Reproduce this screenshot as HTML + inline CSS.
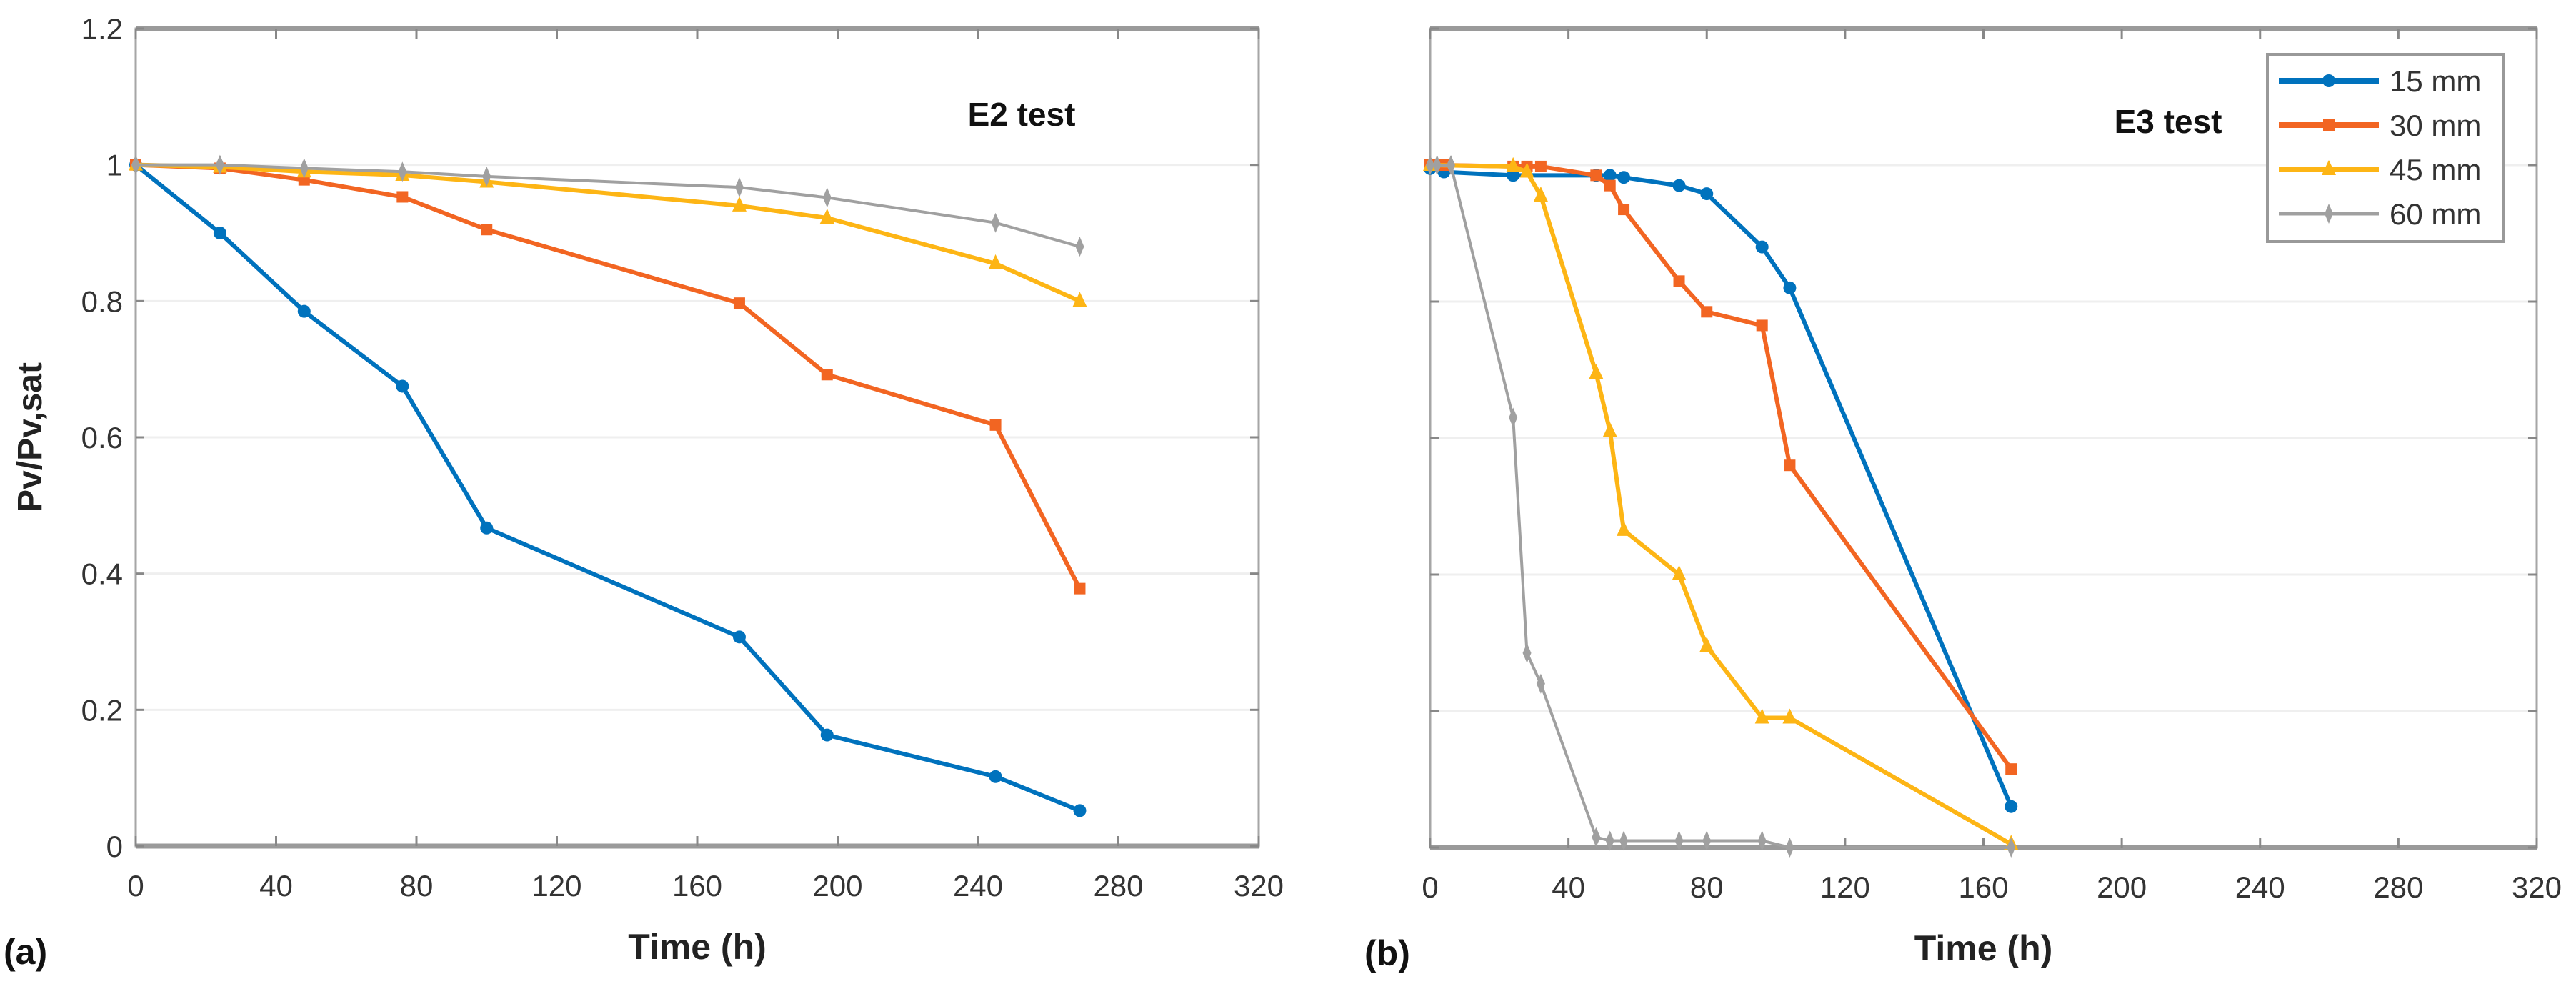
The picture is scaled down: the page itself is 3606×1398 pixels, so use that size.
<!DOCTYPE html>
<html><head><meta charset="utf-8"><style>
html,body{margin:0;padding:0;background:#fff;}
svg text{font-family:"Liberation Sans",sans-serif;}
</style></head><body>
<svg id="c" width="3606" height="1393" xmlns="http://www.w3.org/2000/svg"></svg>
<script>
const xTicks=[0,40,80,120,160,200,240,280,320];
const yTicks=[0,0.2,0.4,0.6,0.8,1,1.2];
const yTickLabels=["0","0.2","0.4","0.6","0.8","1","1.2"];
const seriesNames=["15 mm","30 mm","45 mm","60 mm"];
const aT15=[0,24,48,76,100,172,197,245,269];
const aV15=[1,0.9,0.785,0.675,0.467,0.307,0.163,0.102,0.052];
const aT30=[0,24,48,76,100,172,197,245,269];
const aV30=[1,0.995,0.978,0.953,0.905,0.797,0.692,0.618,0.378];
const aT45=[0,24,48,76,100,172,197,245,269];
const aV45=[1,0.997,0.99,0.985,0.975,0.94,0.922,0.855,0.8];
const aT60=[0,24,48,76,100,172,197,245,269];
const aV60=[1,1,0.995,0.99,0.983,0.967,0.952,0.915,0.88];
const bT15=[0,4,24,48,52,56,72,80,96,104,168];
const bV15=[0.995,0.99,0.985,0.985,0.985,0.982,0.97,0.958,0.88,0.82,0.06];
const bT30=[0,4,24,28,32,48,52,56,72,80,96,104,168];
const bV30=[1,1,0.998,0.998,0.998,0.985,0.97,0.935,0.83,0.785,0.765,0.56,0.115];
const bT45=[0,24,28,32,48,52,56,72,80,96,104,168];
const bV45=[1,0.998,0.99,0.955,0.695,0.61,0.465,0.4,0.295,0.19,0.19,0.005];
const bT60=[0,2,6,24,28,32,48,52,56,72,80,96,104,168];
const bV60=[1,1,1,0.63,0.285,0.24,0.015,0.01,0.01,0.01,0.01,0.01,0,0];
const colors=["#0072BD","#F26522","#FDB515","#A0A0A0"];
const markers=["circle","square","triangle","diamond"];
const NS="http://www.w3.org/2000/svg";
const svg=document.getElementById('c');
function mk(tag,attrs,parent,text){const e=document.createElementNS(NS,tag);for(const k in attrs)e.setAttribute(k,attrs[k]);if(text!==undefined)e.textContent=text;(parent||svg).appendChild(e);return e;}
function marker(g,type,x,y,col){
  let e;
  if(type==="circle"){e=mk('circle',{cx:x,cy:y,r:9,fill:col},g);}
  else if(type==="square"){e=mk('rect',{x:x-8,y:y-8,width:16,height:16,fill:col},g);}
  else if(type==="triangle"){e=mk('polygon',{points:`${x},${y-13} ${x-10},${y+8} ${x+10},${y+8}`,fill:col},g);}
  else {e=mk('polygon',{points:`${x},${y-14} ${x-6},${y} ${x},${y+14} ${x+6},${y}`,fill:col},g);}
  
  
}
function panel(p){
  const g=mk('g',{});
  
  
  const X=v=>p.x0+(v-0)/320*(p.x1-p.x0);
  const Y=v=>p.y1-(v/1.2)*(p.y1-p.y0);
  mk('rect',{x:p.x0,y:p.y0,width:p.x1-p.x0,height:p.y1-p.y0,fill:'#fff'},g);
  yTicks.forEach((t,i)=>{
    if(t>0&&t<1.2){const l=mk('line',{x1:p.x0,x2:p.x1,y1:Y(t),y2:Y(t),stroke:'#efefef','stroke-width':3},g);
    }
  });
  const ax=mk('rect',{x:p.x0,y:p.y0,width:p.x1-p.x0,height:p.y1-p.y0,fill:'none',stroke:'#a6a6a6','stroke-width':3},g);
  
  mk('line',{x1:p.x0,x2:p.x1,y1:p.y1,y2:p.y1,stroke:'#9a9a9a','stroke-width':7},g);
  mk('line',{x1:p.x0,x2:p.x1,y1:p.y0,y2:p.y0,stroke:'#9a9a9a','stroke-width':6},g);
  xTicks.forEach(t=>{
    mk('line',{x1:X(t),x2:X(t),y1:p.y1,y2:p.y1-14,stroke:'#888','stroke-width':3},g);
    mk('line',{x1:X(t),x2:X(t),y1:p.y0,y2:p.y0+14,stroke:'#888','stroke-width':3},g);
    const tl=mk('text',{x:X(t),y:p.y1+70,'font-size':42,fill:'#333','text-anchor':'middle'},g,String(t));
    
  });
  yTicks.forEach((t,i)=>{
    mk('line',{x1:p.x0,x2:p.x0+12,y1:Y(t),y2:Y(t),stroke:'#888','stroke-width':3},g);
    mk('line',{x1:p.x1,x2:p.x1-12,y1:Y(t),y2:Y(t),stroke:'#888','stroke-width':3},g);
    if(p.yLabels){const tl=mk('text',{x:p.x0-18,y:Y(t)+15,'font-size':42,fill:'#333','text-anchor':'end'},g,yTickLabels[i]);
    }
  });
  p.series.forEach((s,si)=>{
    const sg=mk('g',{},g);
    
    
    const pts=s.t.map((t,i)=>X(t)+','+Y(s.v[i])).join(' ');
    mk('polyline',{points:pts,fill:'none',stroke:colors[si],'stroke-width':si===3?4:6,'stroke-linejoin':'round'},sg);
    s.t.forEach((t,i)=>marker(sg,markers[si],X(t),Y(s.v[i]),colors[si]));
  });
  const tt=mk('text',{x:p.tx,y:p.ty,'font-size':46,'font-weight':'bold',fill:'#111','text-anchor':'middle'},g,p.title);
  
  const xl=mk('text',{x:(p.x0+p.x1)/2,y:p.y1+158,'font-size':50,'font-weight':'bold',fill:'#222','text-anchor':'middle'},g,'Time (h)');
  
  const pl=mk('text',{x:p.lx,y:p.y1+165,'font-size':50,'font-weight':'bold',fill:'#111'},g,p.letter);
  
  return {g,X,Y};
}
panel({name:'panel-a-e2',x0:190,x1:1762,y0:40,y1:1184,yLabels:true,title:'E2 test',tx:1430,ty:176,letter:'(a)',lx:5,
 series:[{t:aT15,v:aV15},{t:aT30,v:aV30},{t:aT45,v:aV45},{t:aT60,v:aV60}]});
panel({name:'panel-b-e3',x0:2002,x1:3551,y0:40,y1:1186,yLabels:false,title:'E3 test',tx:3035,ty:186,letter:'(b)',lx:1910,
 series:[{t:bT15,v:bV15},{t:bT30,v:bV30},{t:bT45,v:bV45},{t:bT60,v:bV60}]});
const yl=mk('text',{x:0,y:0,'font-size':48,'font-weight':'bold',fill:'#222','text-anchor':'middle',transform:'translate(58,612) rotate(-90)'},svg,'Pv/Pv,sat');

const lg=mk('g',{});


mk('rect',{x:3174,y:76,width:330,height:262,fill:'#fff',stroke:'#999','stroke-width':4},lg);
seriesNames.forEach((n,i)=>{
  const y=113+i*62;
  const eg=mk('g',{},lg);
  
  
  mk('line',{x1:3190,x2:3330,y1:y,y2:y,stroke:colors[i],'stroke-width':i===3?5:8},eg);
  marker(eg,markers[i],3260,y,colors[i]);
  mk('text',{x:3345,y:y+15,'font-size':42,fill:'#333'},eg,n);
});
</script>
</body></html>
